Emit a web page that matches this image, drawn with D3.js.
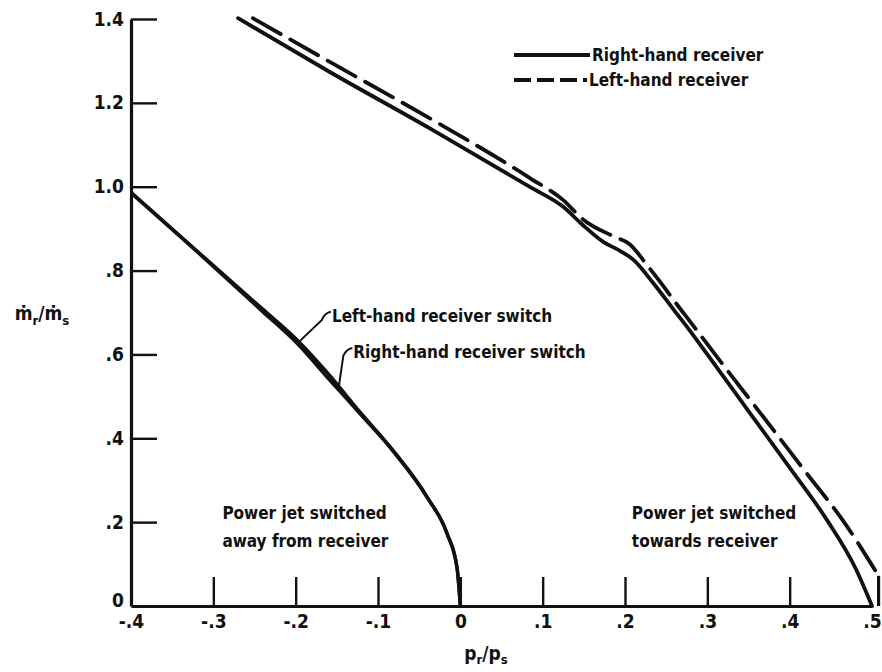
<!DOCTYPE html>
<html>
<head>
<meta charset="utf-8">
<script src="https://cdn.jsdelivr.net/npm/d3@7"></script>
<style>
  html, body { margin: 0; padding: 0; background: #fff; }
  svg text { font-family: "Liberation Sans Narrow", "DejaVu Sans Condensed", "DejaVu Sans", sans-serif; font-weight: bold; font-stretch: condensed; fill: #111; }
</style>
</head>
<body>
<svg id="chart" width="882" height="672"></svg>
<script>
// ---- data ----
const xTicks = [-0.4, -0.3, -0.2, -0.1, 0, 0.1, 0.2, 0.3, 0.4, 0.5];
const xTickLabels = ["-.4", "-.3", "-.2", "-.1", "0", ".1", ".2", ".3", ".4", ".5"];
const yTicks = [0, 0.2, 0.4, 0.6, 0.8, 1.0, 1.2, 1.4];
const yTickLabels = ["0", ".2", ".4", ".6", ".8", "1.0", "1.2", "1.4"];

// Right-hand receiver (solid)
const rightX = [-0.270, -0.158, -0.037, 0.085, 0.125, 0.148, 0.174, 0.194, 0.210, 0.234, 0.259, 0.276, 0.30, 0.35, 0.40, 0.446, 0.48, 0.50];
const rightY = [1.402, 1.273, 1.139, 0.999, 0.952, 0.910, 0.868, 0.847, 0.826, 0.771, 0.707, 0.664, 0.600, 0.465, 0.330, 0.203, 0.090, 0.0];
// Left-hand receiver (dashed)
const leftX = [-0.252, -0.158, -0.037, 0.085, 0.125, 0.149, 0.188, 0.205, 0.228, 0.245, 0.262, 0.28, 0.32, 0.37, 0.42, 0.465, 0.508];
const leftY = [1.402, 1.297, 1.163, 1.020, 0.968, 0.922, 0.880, 0.864, 0.810, 0.767, 0.722, 0.676, 0.573, 0.446, 0.318, 0.203, 0.072];
// tail of the left-hand receiver curve, down to the axis
const leftTailX = [0.508, 0.508];
const leftTailY = [0.072, 0.0];
// Right-hand receiver switch (solid)
const rhSwitchX = [-0.4, -0.304, -0.24, -0.198, -0.16, -0.122, -0.082, -0.040, -0.016, -0.004, 0];
const rhSwitchY = [0.985, 0.817, 0.702, 0.626, 0.542, 0.459, 0.370, 0.258, 0.172, 0.091, 0.0];
// Left-hand receiver switch (solid)
const lhSwitchX = [-0.4, -0.304, -0.24, -0.198, -0.16, -0.122, -0.082, -0.040, -0.016, -0.004, 0];
const lhSwitchY = [0.987, 0.819, 0.708, 0.634, 0.553, 0.463, 0.372, 0.259, 0.172, 0.091, 0.0];

const legendLabels = ["Right-hand receiver", "Left-hand receiver"];
const regionLabels = [
  { x: -0.289, y: 0.222, lines: ["Power jet switched", "away from receiver"] },
  { x: 0.2083, y: 0.222, lines: ["Power jet switched", "towards receiver"] }
];
const switchNotes = [
  { text: "Left-hand receiver switch", ax: -0.196, ay: 0.630, tx: -0.156, ty: 0.692 },
  { text: "Right-hand receiver switch", ax: -0.148, ay: 0.517, tx: -0.130, ty: 0.606 }
];

// ---- scales ----
const svg = d3.select("#chart");
const x = d3.scaleLinear().domain([-0.4, 0.5]).range([131, 872]);
const y = d3.scaleLinear().domain([0, 1.4]).range([606, 19]);

const ink = "#111";

// ---- axes ----
const xAxis = d3.axisBottom(x)
  .tickValues(xTicks)
  .tickSize(-29)
  .tickSizeOuter(0)
  .tickPadding(9)
  .tickFormat((d, i) => xTickLabels[i]);
const gx = svg.append("g").attr("transform", `translate(0,${y(0)})`).call(xAxis);
gx.select(".domain").attr("stroke", ink).attr("stroke-width", 3.2);
gx.selectAll(".tick line").attr("stroke", ink).attr("stroke-width", 2.4)
  .attr("display", d => (d === -0.4 || d === 0.5) ? "none" : null);
gx.selectAll(".tick text").attr("font-size", 19).attr("fill", ink);

const yAxis = d3.axisLeft(y)
  .tickValues(yTicks)
  .tickSize(-26)
  .tickSizeOuter(0)
  .tickPadding(7)
  .tickFormat((d, i) => yTickLabels[i]);
const gy = svg.append("g").attr("transform", `translate(${x(-0.4)},0)`).call(yAxis);
gy.select(".domain").attr("stroke", ink).attr("stroke-width", 3.2);
gy.selectAll(".tick line").attr("stroke", ink).attr("stroke-width", 2.4)
  .attr("display", d => d === 0 ? "none" : null);
gy.selectAll(".tick text").attr("font-size", 19).attr("fill", ink);
gy.selectAll(".tick").filter(d => d === 0).select("text").attr("dy", "0.05em");

// ---- axis titles ----
const xt = svg.append("text").attr("x", 486).attr("y", 660).attr("text-anchor", "middle").attr("font-size", 19);
xt.append("tspan").text("p");
xt.append("tspan").attr("font-size", 13).attr("dy", 4).text("r");
xt.append("tspan").attr("dy", -4).text("/p");
xt.append("tspan").attr("font-size", 13).attr("dy", 4).text("s");

const yt = svg.append("text").attr("x", 42).attr("y", 320).attr("text-anchor", "middle").attr("font-size", 19);
yt.append("tspan").text("\u1E41");
yt.append("tspan").attr("font-size", 13).attr("dy", 5).text("r");
yt.append("tspan").attr("dy", -5).text("/\u1E41");
yt.append("tspan").attr("font-size", 13).attr("dy", 5).text("s");

// ---- curves ----
const line = d3.line().x(d => x(d[0])).y(d => y(d[1])).curve(d3.curveMonotoneX);
const straight = d3.line().x(d => x(d[0])).y(d => y(d[1]));
const zip = (a, b) => a.map((v, i) => [v, b[i]]);

svg.append("path").datum(zip(lhSwitchX, lhSwitchY)).attr("d", line)
  .attr("fill", "none").attr("stroke", ink).attr("stroke-width", 3.4);
svg.append("path").datum(zip(rhSwitchX, rhSwitchY)).attr("d", line)
  .attr("fill", "none").attr("stroke", ink).attr("stroke-width", 3.4);
svg.append("path").datum(zip(rightX, rightY)).attr("d", line)
  .attr("fill", "none").attr("stroke", ink).attr("stroke-width", 3.8).attr("stroke-linecap", "round");
svg.append("path").datum(zip(leftX, leftY)).attr("d", line)
  .attr("fill", "none").attr("stroke", ink).attr("stroke-width", 3.8)
  .attr("stroke-dasharray", "32,11").attr("stroke-linecap", "round");
svg.append("path").datum(zip(leftTailX, leftTailY)).attr("d", straight)
  .attr("fill", "none").attr("stroke", ink).attr("stroke-width", 3.2);

// ---- switch annotations ----
switchNotes.forEach(n => {
  const ax = x(n.ax), ay = y(n.ay), tx = x(n.tx), ty = y(n.ty);
  svg.append("path")
    .attr("d", `M${ax},${ay} L${tx - 10},${ty + 4} Q${tx - 7},${ty - 3} ${tx - 1},${ty - 4}`)
    .attr("fill", "none").attr("stroke", ink).attr("stroke-width", 2);
  svg.append("text").attr("x", tx).attr("y", ty).attr("dy", "0.35em")
    .attr("font-size", 17).text(n.text);
});

// ---- region labels ----
regionLabels.forEach(r => {
  r.lines.forEach((t, i) => {
    svg.append("text").attr("x", x(r.x)).attr("y", y(r.y) + i * 28).attr("dy", "0.35em")
      .attr("font-size", 17).text(t);
  });
});

// ---- legend ----
const legend = svg.append("g");
[0, 1].forEach(i => {
  const ly = 55 + i * 25;
  legend.append("line").attr("x1", 514).attr("x2", i === 0 ? 590 : 587).attr("y1", ly).attr("y2", ly)
    .attr("stroke", ink).attr("stroke-width", 4)
    .attr("stroke-dasharray", i === 0 ? null : "17,6");
  legend.append("text").attr("x", i === 0 ? 592 : 589).attr("y", ly).attr("dy", "0.35em")
    .attr("font-size", 17).text(legendLabels[i]);
});
</script>
</body>
</html>
